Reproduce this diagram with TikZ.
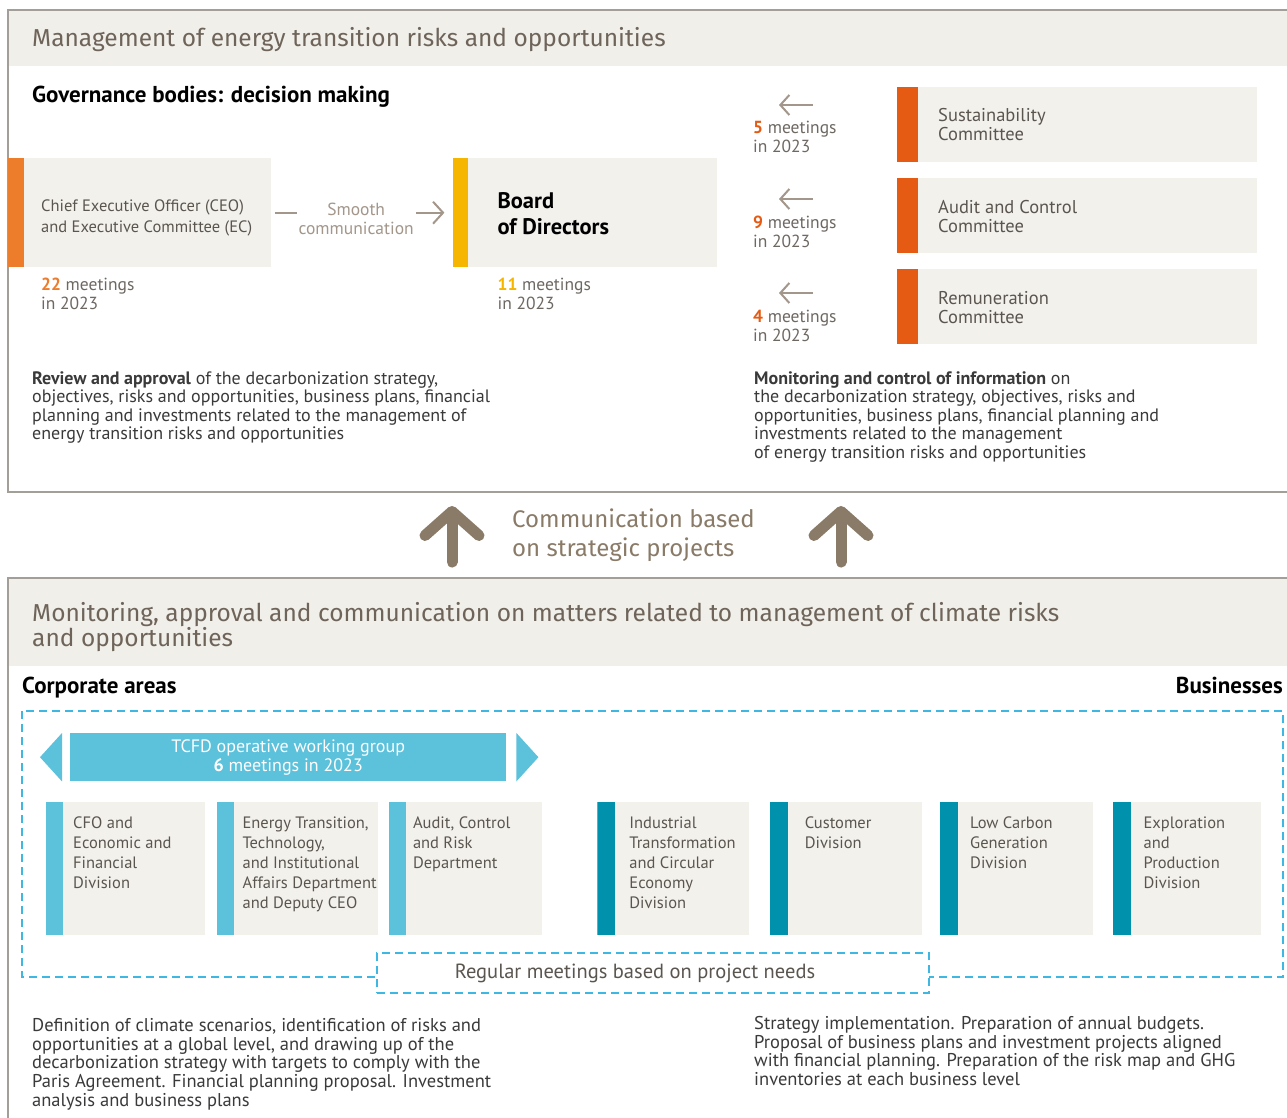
\documentclass[tikz,border=0pt]{standalone}
\usepackage{fontspec}
\setmainfont{PT Sans}
\newfontfamily\headfont{Fira Sans}
\usetikzlibrary{positioning,arrows.meta}

\definecolor{bandcol}{HTML}{F1EFEA}
\definecolor{beigecol}{HTML}{F3F1EC}
\definecolor{framecol}{HTML}{A39E98}
\definecolor{headcol}{HTML}{6E645A}
\definecolor{bodycol}{HTML}{3A3A3A}
\definecolor{greycol}{HTML}{5A554F}
\definecolor{meetcol}{HTML}{6E6862}
\definecolor{tancol}{HTML}{8A7B68}
\definecolor{lighttan}{HTML}{A3968A}
\definecolor{ceoorange}{HTML}{EE7D2B}
\definecolor{comorange}{HTML}{E55B13}
\definecolor{boardyellow}{HTML}{F6B600}
\definecolor{lightcyan}{HTML}{5CC1DB}
\definecolor{darkteal}{HTML}{0092AC}
\definecolor{dashcyan}{HTML}{3EB8E3}

\tikzset{
  leftbar/.style args={#1/#2}{path picture={\fill[#1] (path picture bounding box.north west) rectangle ([xshift=#2]path picture bounding box.south west);}},
  govbox/.style={fill=beigecol, minimum height=109pt, inner sep=0pt},
  combox/.style={fill=beigecol, minimum width=360pt, minimum height=75pt, inner sep=0pt, leftbar=comorange/21pt},
  unitbox/.style={fill=beigecol, minimum height=133pt, inner sep=0pt, anchor=north west},
  corpbox/.style={unitbox, leftbar=lightcyan/17pt},
  busbox/.style={unitbox, leftbar=darkteal/18pt},
  headtext/.style={text=headcol, anchor=north west, inner sep=0pt, align=left, font=\headfont\fontsize{24.5}{25}\selectfont},
  subhead/.style={text=black, inner sep=0pt, font=\bfseries\fontsize{23}{26}\selectfont},
  boxtext/.style={text=greycol, align=left, inner sep=0pt, font=\fontsize{18.5}{19}\selectfont},
  unittext/.style={text=greycol, align=left, inner sep=0pt, anchor=north west, font=\fontsize{16.5}{20}\selectfont},
  meettext/.style={text=meetcol, align=left, inner sep=0pt, anchor=north west, font=\fontsize{17.5}{19}\selectfont},
  bodytext/.style={text=bodycol, align=left, inner sep=0pt, anchor=north west, font=\fontsize{18}{18.5}\selectfont},
  smoothline/.style={draw=lighttan, line width=2pt},
  smallarrow/.style={draw=lighttan, line width=2pt, -{Straight Barb[length=9pt,width=20pt]}},
  bigarrow/.style={draw=tancol, line width=11pt, line cap=round, -{Straight Barb[length=24pt,width=54pt,round]}},
  dashframe/.style={draw=dashcyan, line width=2.2pt, dash pattern=on 8pt off 5pt}
}

\begin{document}
\begin{tikzpicture}[x=1pt,y=-1pt]
  \useasboundingbox (0,0) rectangle (1287,1118);

  % upper panel
  \draw[framecol, line width=2pt, fill=white] (8,10) rectangle (1300,492);
  \fill[bandcol] (9,11) rectangle (1299,66);
  \node[headtext] (uphead) at (32,27) {Management of energy transition risks and opportunities};
  \node[subhead, anchor=north west] (govhead) at (32,86) {Governance bodies: decision making};

  \node (ceo) [govbox, leftbar=ceoorange/16pt, minimum width=263pt, anchor=north west] at (8,158) {};
  \node (board) [govbox, leftbar=boardyellow/15pt, minimum width=264pt, right=181pt of ceo] {};
  \node (ceotxt) [boxtext, anchor=west, font=\fontsize{16.5}{21}\selectfont] at ([xshift=33pt,yshift=-5pt]ceo.west) {Chief Executive Officer (CEO)\\and Executive Committee (EC)};
  \node (boardtxt) [subhead, align=left, anchor=west, font=\bfseries\fontsize{22.5}{26}\selectfont] at ([xshift=45pt,yshift=-1pt]board.west) {Board\\of Directors};
  \node (smooth) [text=lighttan, align=center, inner sep=0pt, font=\fontsize{17.5}{19}\selectfont, anchor=west] at ([xshift=27pt,yshift=-6pt]ceo.east) {Smooth\\communication};
  \draw[smoothline] ([xshift=4pt]ceo.east) -- ([xshift=-1pt]smooth.west |- ceo.east);
  \draw[smoothline, -{Straight Barb[length=10pt,width=22pt]}] ([xshift=2pt]smooth.east |- board.west) -- ([xshift=-8pt]board.west);

  \node (ceomeet) [meettext, below right=10pt and 33pt of ceo.south west] {\textbf{\color{ceoorange}22} meetings\\in 2023};
  \node (boardmeet) [meettext, below right=10pt and 45pt of board.south west] {\textbf{\color{boardyellow}11} meetings\\in 2023};

  % committees
  \node (sus) [combox, anchor=north west] at (897,87) {};
  \node (aud) [combox, below=15pt of sus] {};
  \node (rem) [combox, below=16pt of aud] {};
  \node (sustxt) [boxtext, anchor=west] at ([xshift=41pt]sus.west) {Sustainability\\Committee};
  \node (audtxt) [boxtext, anchor=west] at ([xshift=41pt,yshift=-1pt]aud.west) {Audit and Control\\Committee};
  \node (remtxt) [boxtext, anchor=west] at ([xshift=41pt,yshift=-1pt]rem.west) {Remuneration\\Committee};

  \node (susmeet) [meettext] at (753,121) {\textbf{\color{comorange}5} meetings\\in 2023};
  \node (audmeet) [meettext] at (753,216) {\textbf{\color{comorange}9} meetings\\in 2023};
  \node (remmeet) [meettext] at (753,310) {\textbf{\color{comorange}4} meetings\\in 2023};
  \coordinate (susfrom) at (813,105);
  \coordinate (susto) at (779,105);
  \coordinate (audfrom) at (813,199);
  \coordinate (audto) at (779,199);
  \coordinate (remfrom) at (813,293);
  \coordinate (remto) at (779,293);
  \draw[smallarrow] (susfrom) -- (susto);
  \draw[smallarrow] (audfrom) -- (audto);
  \draw[smallarrow] (remfrom) -- (remto);

  \node (review) [bodytext] at (32,371) {\textbf{Review and approval} of the decarbonization strategy,\\objectives, risks and opportunities, business plans, financial\\planning and investments related to the management of\\energy transition risks and opportunities};
  \node (monitor) [bodytext] at (754,371) {\textbf{Monitoring and control of information} on\\the decarbonization strategy, objectives, risks and\\opportunities, business plans, financial planning and\\investments related to the management\\of energy transition risks and opportunities};

  % link between the panels
  \coordinate (leftfoot) at (452,562);
  \coordinate (lefttip) at (452,506);
  \coordinate (rightfoot) at (841,562);
  \coordinate (righttip) at (841,506);
  \draw[bigarrow] (leftfoot) -- (lefttip);
  \draw[bigarrow] (rightfoot) -- (righttip);
  \node (commtxt) [headtext, text=tancol, font=\headfont\fontsize{24}{29}\selectfont] at (512,509) {Communication based\\on strategic projects};

  % lower panel
  \draw[framecol, line width=2pt, fill=white] (8,578) rectangle (1300,1130);
  \fill[bandcol] (9,579) rectangle (1299,666);
  \node[headtext] (lowhead) at (32,602) {Monitoring, approval and communication on matters related to management of climate risks\\and opportunities};
  \node[subhead, anchor=north west] (corphead) at (22,677) {Corporate areas};
  \node[subhead, anchor=north east] (bushead) at (1283,677) {Businesses};

  \draw[dashframe] (22,711) rectangle (1283,977);

  \node (tcfd) [fill=lightcyan, text=white, align=center, minimum width=436pt, minimum height=48pt, inner sep=0pt, anchor=north west, font=\fontsize{18}{19}\selectfont] at (70,733) {TCFD operative working group\\\textbf{6} meetings in 2023};
  \fill[lightcyan] ([xshift=-8pt]tcfd.north west) -- ([xshift=-30pt]tcfd.west) -- ([xshift=-8pt]tcfd.south west) -- cycle;
  \fill[lightcyan] ([xshift=10pt]tcfd.north east) -- ([xshift=32pt]tcfd.east) -- ([xshift=10pt]tcfd.south east) -- cycle;

  \node (cfo) [corpbox, minimum width=159pt] at (46,802) {};
  \node (etd) [corpbox, minimum width=161pt, right=11pt of cfo] {};
  \node (acr) [corpbox, minimum width=153pt, right=11pt of etd] {};
  \node (itc) [busbox, minimum width=152pt, right=55pt of acr] {};
  \node (cus) [busbox, minimum width=152pt, right=20pt of itc] {};
  \node (lcg) [busbox, minimum width=153pt, right=18pt of cus] {};
  \node (exp) [busbox, minimum width=148pt, right=19pt of lcg] {};

  \node (cfotxt) [unittext] at ([xshift=27pt,yshift=-15pt]cfo.north west) {CFO and\\Economic and\\Financial\\Division};
  \node (etdtxt) [unittext] at ([xshift=26pt,yshift=-15pt]etd.north west) {Energy Transition,\\Technology,\\and Institutional\\Affairs Department\\and Deputy CEO};
  \node (acrtxt) [unittext] at ([xshift=24pt,yshift=-15pt]acr.north west) {Audit, Control\\and Risk\\Department};
  \node (itctxt) [unittext] at ([xshift=32pt,yshift=-15pt]itc.north west) {Industrial\\Transformation\\and Circular\\Economy\\Division};
  \node (custxt) [unittext] at ([xshift=35pt,yshift=-15pt]cus.north west) {Customer\\Division};
  \node (lcgtxt) [unittext] at ([xshift=30pt,yshift=-15pt]lcg.north west) {Low Carbon\\Generation\\Division};
  \node (exptxt) [unittext] at ([xshift=31pt,yshift=-15pt]exp.north west) {Exploration\\and\\Production\\Division};

  \node (regular) [dashframe, fill=white, minimum width=552pt, minimum height=40pt, inner sep=0pt] at (653,973) {};
  \node (regulartxt) [text=greycol, inner sep=0pt, font=\fontsize{20.5}{22}\selectfont] at ([xshift=-18pt]regular.center) {Regular meetings based on project needs};

  \node (corpnote) [bodytext, font=\fontsize{18.5}{18.75}\selectfont] at (32,1018) {Definition of climate scenarios, identification of risks and\\opportunities at a global level, and drawing up of the\\decarbonization strategy with targets to comply with the\\Paris Agreement. Financial planning proposal. Investment\\analysis and business plans};
  \node (busnote) [bodytext, font=\fontsize{18.5}{18.7}\selectfont] at (754,1016) {Strategy implementation. Preparation of annual budgets.\\Proposal of business plans and investment projects aligned\\with financial planning. Preparation of the risk map and GHG\\inventories at each business level};

\end{tikzpicture}
\end{document}
